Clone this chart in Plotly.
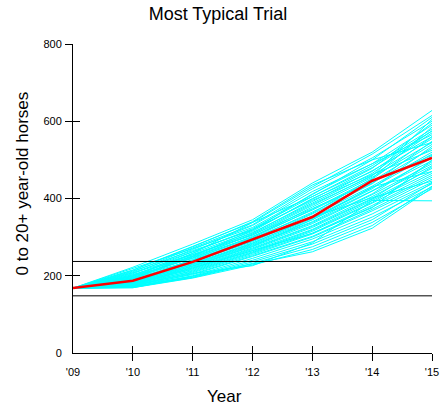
import plotly.graph_objects as go

years = [0, 1, 2, 3, 4, 5, 6]
year_labels = ["'09", "'10", "'11", "'12", "'13", "'14", "'15"]
y_ticks = [0, 200, 400, 600, 800]

trials = [
    [168, 222, 282, 345, 440, 520, 628],
    [168, 215, 276, 338, 430, 515, 615],
    [168, 210, 272, 332, 425, 505, 600],
    [168, 218, 270, 325, 410, 500, 610],
    [168, 205, 268, 330, 418, 490, 590],
    [168, 200, 262, 322, 405, 485, 580],
    [168, 212, 265, 318, 398, 478, 595],
    [168, 198, 258, 315, 400, 470, 575],
    [168, 207, 255, 310, 392, 472, 560],
    [168, 195, 252, 312, 388, 465, 570],
    [168, 203, 250, 305, 382, 460, 555],
    [168, 192, 248, 300, 378, 455, 545],
    [168, 200, 245, 298, 372, 450, 560],
    [168, 188, 242, 302, 370, 445, 540],
    [168, 196, 240, 295, 365, 440, 530],
    [168, 185, 238, 290, 360, 438, 548],
    [168, 193, 236, 288, 355, 432, 520],
    [168, 182, 234, 292, 350, 428, 515],
    [168, 190, 232, 285, 348, 425, 535],
    [168, 180, 230, 282, 345, 420, 505],
    [168, 187, 228, 280, 340, 418, 498],
    [168, 178, 226, 278, 338, 412, 510],
    [168, 185, 225, 275, 335, 410, 490],
    [168, 176, 222, 272, 330, 405, 485],
    [168, 183, 220, 270, 328, 400, 495],
    [168, 175, 218, 268, 325, 398, 478],
    [168, 180, 216, 265, 320, 395, 470],
    [168, 173, 214, 262, 318, 390, 482],
    [168, 178, 212, 260, 315, 388, 465],
    [168, 172, 210, 258, 310, 382, 460],
    [168, 176, 208, 255, 308, 378, 455],
    [168, 170, 205, 252, 302, 372, 450],
    [168, 174, 203, 250, 300, 368, 442],
    [168, 171, 200, 245, 295, 360, 438],
    [168, 169, 198, 240, 288, 352, 430],
    [168, 172, 196, 236, 282, 345, 440],
    [168, 170, 195, 232, 275, 338, 425],
    [168, 169, 194, 228, 268, 330, 432],
    [168, 171, 199, 230, 262, 323, 428],
    [168, 175, 206, 226, 285, 395, 394],
    [168, 190, 258, 338, 405, 480, 575],
    [168, 208, 262, 320, 395, 462, 525],
    [168, 214, 275, 340, 435, 500, 545],
    [168, 198, 246, 308, 385, 458, 605],
    [168, 186, 240, 296, 362, 452, 585],
    [168, 179, 224, 276, 345, 430, 470],
    [168, 181, 230, 284, 352, 402, 445],
    [168, 202, 254, 306, 374, 442, 512],
    [168, 177, 220, 266, 310, 376, 500],
    [168, 194, 250, 318, 412, 490, 565],
]

typical = [168, 187, 236, 295, 352, 446, 505]
hlines = [148, 237]

FONT = "Liberation Sans, Arial, sans-serif"

fig = go.Figure()
for t in trials:
    fig.add_trace(go.Scatter(x=years, y=t, mode="lines",
                             line=dict(color="#00FFFF", width=1),
                             showlegend=False, hoverinfo="skip"))
for h in hlines:
    fig.add_trace(go.Scatter(x=[years[0], years[-1]], y=[h, h], mode="lines",
                             line=dict(color="black", width=1),
                             showlegend=False, hoverinfo="skip"))
fig.add_trace(go.Scatter(x=years, y=typical, mode="lines",
                         line=dict(color="#FF0000", width=2.5),
                         showlegend=False, hoverinfo="skip"))
# helper traces so the outside-tick overlay axes are drawn
fig.add_trace(go.Scatter(x=[], y=[], xaxis="x2", yaxis="y", showlegend=False))
fig.add_trace(go.Scatter(x=[], y=[], xaxis="x", yaxis="y2", showlegend=False))

W, H = 440, 410
L, R, T, B = 73, 8, 44, 57
pw, ph = W - L - R, H - T - B

fig.update_layout(
    width=W, height=H,
    margin=dict(l=L, r=R, t=T, b=B, autoexpand=False),
    paper_bgcolor="white", plot_bgcolor="white",
    font=dict(family=FONT, size=11, color="black"),
    hovermode=False,
    xaxis=dict(range=[0, 6], tickvals=years, ticktext=year_labels,
               ticks="inside", ticklen=7, tickcolor="black", tickwidth=1,
               ticklabelstandoff=9,
               showline=True, linecolor="black", linewidth=1,
               showgrid=False, zeroline=False,
               tickfont=dict(size=11)),
    yaxis=dict(range=[0, 800], tickvals=y_ticks,
               ticks="inside", ticklen=7, tickcolor="black", tickwidth=1,
               ticklabelstandoff=8,
               showline=True, linecolor="black", linewidth=1,
               showgrid=False, zeroline=False,
               tickfont=dict(size=11)),
    xaxis2=dict(overlaying="x", anchor="y", side="bottom",
                range=[0, 6], tickvals=years[1:], ticks="outside", ticklen=7,
                tickcolor="black", tickwidth=1, showticklabels=False,
                showline=False, showgrid=False, zeroline=False),
    yaxis2=dict(overlaying="y", anchor="x", side="left",
                range=[0, 800], tickvals=y_ticks[1:], ticks="outside", ticklen=7,
                tickcolor="black", tickwidth=1, showticklabels=False,
                showline=False, showgrid=False, zeroline=False),
    title=dict(text="Most Typical Trial", x=218 / W, xref="container", xanchor="center",
               y=1 - 13.5 / H, yref="container", yanchor="middle",
               font=dict(size=18, family=FONT)),
    annotations=[
        dict(text="Year", xref="paper", yref="paper",
             x=(224.5 - L) / pw, y=-(396.5 - (T + ph)) / ph,
             xanchor="center", yanchor="middle", showarrow=False,
             font=dict(size=17, family=FONT)),
        dict(text="0 to 20+ year-old horses", xref="paper", yref="paper",
             x=(22 - L) / pw, y=((T + ph) - 183.5) / ph, textangle=-90,
             xanchor="center", yanchor="middle", showarrow=False,
             font=dict(size=17, family=FONT)),
    ],
)

fig.write_html("out.html",
               config={"displayModeBar": False},
               post_script="document.body.style.margin='0';document.body.style.overflow='hidden';")
